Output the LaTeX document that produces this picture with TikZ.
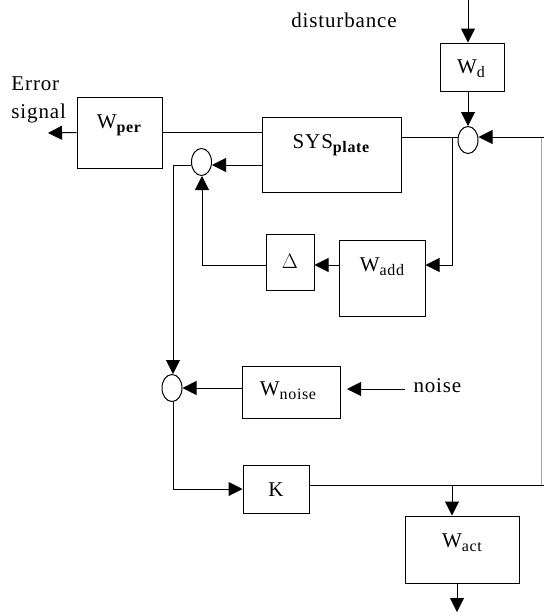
\documentclass[tikz,border=0pt]{standalone}
\usepackage{fontspec}
\setmainfont{Liberation Serif}[LetterSpace=4]
\usetikzlibrary{arrows.meta,shapes.geometric}
\newcommand{\lowtxt}[1]{\raisebox{-0.4ex}{\fontsize{16}{16}\selectfont #1}}
\newcommand{\lowbf}[1]{\raisebox{-0.4ex}{\fontsize{16}{16}\selectfont\bfseries #1}}

\begin{document}
\begin{tikzpicture}[
  x=1pt, y=-1pt, line width=1pt,
  blk/.style={draw, inner sep=0pt},
  sum/.style={draw, ellipse, inner sep=0pt, minimum width=20pt, minimum height=27pt},
  lab/.style={font=\fontsize{21}{28}\selectfont, inner sep=0pt},
  arr/.style={-{Triangle[length=14pt,width=14pt]}}
]
\useasboundingbox (0,0) rectangle (544,616);

% blocks
\node[blk, minimum width=64pt, minimum height=48pt] (wd) at (472,67) {};
\node[blk, minimum width=139pt, minimum height=75pt] (sys) at (331.5,154.5) {};
\node[blk, minimum width=85pt, minimum height=71pt] (wper) at (119.5,132.5) {};
\node[blk, minimum width=86pt, minimum height=76pt] (wadd) at (382,278) {};
\node[blk, minimum width=48pt, minimum height=56pt] (delta) at (290,262) {};
\node[blk, minimum width=98pt, minimum height=52pt] (wnoise) at (291,392) {};
\node[blk, minimum width=66pt, minimum height=48pt] (k) at (276,489) {};
\node[blk, minimum width=114pt, minimum height=67pt] (wact) at (462,549.5) {};

% summing junctions
\node[sum] (s1) at (468,140) {};
\node[sum] (s2) at (201.5,162) {};
\node[sum] (s3) at (172,388) {};

% block labels
\node[lab] (wdlab) at (471,69) {W\lowtxt{d}};
\node[lab] (syslab) at (331,145) {SYS\lowbf{plate}};
\node[lab] (wperlab) at (119,125) {W\lowbf{per}};
\node[lab] (waddlab) at (382,267) {W\lowtxt{add}};
\node[lab] (deltalab) at (290,261) {$\Delta$};
\node[lab] (wnoiselab) at (288,391) {W\lowtxt{noise}};
\node[lab] (klab) at (276,490) {K};
\node[lab] (wactlab) at (462,543) {W\lowtxt{act}};

% free texts
\node[lab] (dist) at (344,20) {disturbance};
\node[lab, anchor=west, align=left] (err) at (11,100) {Error\\signal};
\node[lab, anchor=west] (noise) at (413,386) {noise};

% free ends
\coordinate (dtop) at (468,0);
\coordinate (rtop) at (541,137);
\coordinate (rbot) at (541,485);
\coordinate (redge) at (544,485);
\coordinate (b1) at (452,137);
\coordinate (b2) at (452,265);
\coordinate (c2) at (202,265);
\coordinate (c1) at (173,165);
\coordinate (c3) at (173,489);
\coordinate (kb) at (452,485);
\coordinate (errend) at (48,133);
\coordinate (nstart) at (405,389);
\coordinate (nend) at (347,389);
\coordinate (actend) at (457,612);

% connectors
\draw[arr] (dtop) -- (wd.south |- wd.north -| dtop);
\draw[arr] (s1 |- wd.south) -- (s1.north);
\draw[black!35] (rbot) -- (rtop);
\draw[arr] (544,137) -- (s1.east |- rtop);
\draw (s1.west |- b1) -- (sys.east |- b1);
\draw[arr] (b1) -- (b2) -- (wadd.east |- b2);
\draw[arr] (wadd.west |- b2) -- (delta.east |- b2);
\draw[arr] (delta.west |- b2) -- (c2) -- (c2 |- s2.south);
\draw[arr] (sys.west |- c1) -- (s2.east |- c1);
\draw (sys.west |- wper.east) -- (wper.east);
\draw[arr] (wper.west) -- (errend);
\draw[arr] (s2.west |- c1) -- (c1) -- (s3.north -| c1);
\draw[arr] (wnoise.west |- s3.east) -- (s3.east);
\draw[arr] (nstart) -- (nend);
\draw[arr] (s3.south -| c3) -- (c3) -- (k.west |- c3);
\draw (k.east |- kb) -- (redge);
\draw[arr] (kb) -- (kb |- wact.north);
\draw[arr] (actend |- wact.south) -- (actend);
\end{tikzpicture}
\end{document}
